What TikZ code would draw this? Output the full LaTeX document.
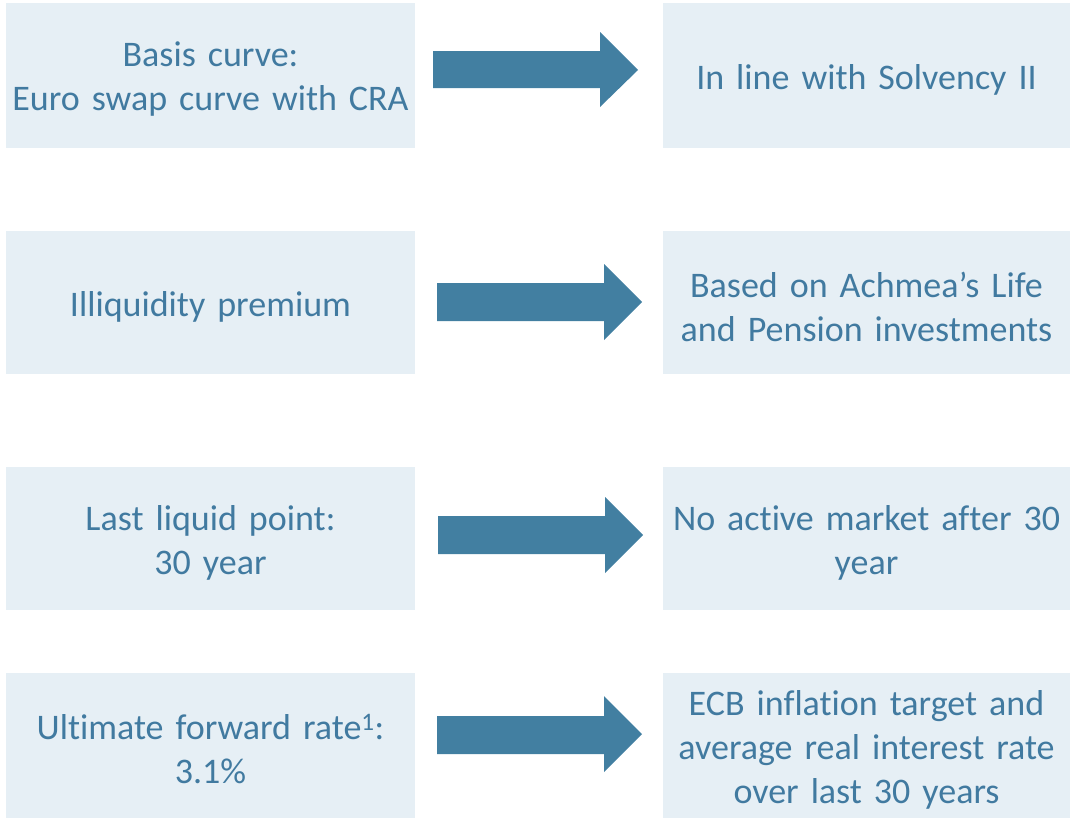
\documentclass[tikz,border=0pt]{standalone}
\usepackage{fontspec}
\setmainfont[Ligatures={NoCommon,NoContextual}]{Carlito}
\definecolor{txtblue}{RGB}{65,122,160}
\definecolor{boxfill}{RGB}{230,239,245}
\definecolor{arrowblue}{RGB}{66,127,161}
\begin{document}
\begin{tikzpicture}[x=1pt,y=-1pt,
  infobox/.style={fill=boxfill, draw=none, inner sep=0pt},
  leftbox/.style={infobox, minimum width=409pt},
  rightbox/.style={infobox, minimum width=407pt},
  boxtext/.style={inner sep=0pt, align=center, text width=403pt, text=txtblue,
    font=\fontsize{36}{44}\selectfont},
  blockarrow/.style={fill=arrowblue, draw=none}]
\useasboundingbox (0,0) rectangle (1071,819);
% left column
\node[leftbox, minimum height=145pt] (l1) at (210.5,75.5) {};
\node[leftbox, minimum height=143pt] (l2) at (210.5,302.5) {};
\node[leftbox, minimum height=143pt] (l3) at (210.5,538.5) {};
\node[leftbox, minimum height=145pt] (l4) at (210.5,745.5) {};
% right column
\node[rightbox, minimum height=145pt] (r1) at (866.5,75.5) {};
\node[rightbox, minimum height=143pt] (r2) at (866.5,302.5) {};
\node[rightbox, minimum height=143pt] (r3) at (866.5,538.5) {};
\node[rightbox, minimum height=145pt] (r4) at (866.5,745.5) {};
% texts
\node[boxtext] (l1t) at ([yshift=-4pt]l1.center) {Basis curve:\\Euro swap curve with CRA};
\node[boxtext] (l2t) at ([yshift=-4pt]l2.center) {Illiquidity premium};
\node[boxtext] (l3t) at ([yshift=-4pt]l3.center) {Last liquid point:\\30 year};
\node[boxtext] (l4t) at ([yshift=-4pt]l4.center) {Ultimate forward rate\textsuperscript{1}:\\3.1\%};
\node[boxtext] (r1t) at ([yshift=-4pt]r1.center) {In line with Solvency II};
\node[boxtext] (r2t) at ([yshift=-4pt]r2.center) {Based on Achmea’s Life\\and Pension investments};
\node[boxtext] (r3t) at ([yshift=-4pt]r3.center) {No active market after 30\\year};
\node[boxtext] (r4t) at ([yshift=-4pt]r4.center) {ECB inflation target and\\average real interest rate\\over last 30 years};
% block arrows
\fill[blockarrow] (433,51) -- (600,51) -- (600,32) -- (638,70) -- (600,107) -- (600,88) -- (433,88) -- cycle;
\fill[blockarrow] (437,283) -- (604,283) -- (604,264) -- (642,302) -- (604,340) -- (604,321) -- (437,321) -- cycle;
\fill[blockarrow] (438,516) -- (605,516) -- (605,497) -- (643,535) -- (605,573) -- (605,554) -- (438,554) -- cycle;
\fill[blockarrow] (437,716) -- (604,716) -- (604,696) -- (642,734) -- (604,772) -- (604,754) -- (437,754) -- cycle;
\end{tikzpicture}
\end{document}
